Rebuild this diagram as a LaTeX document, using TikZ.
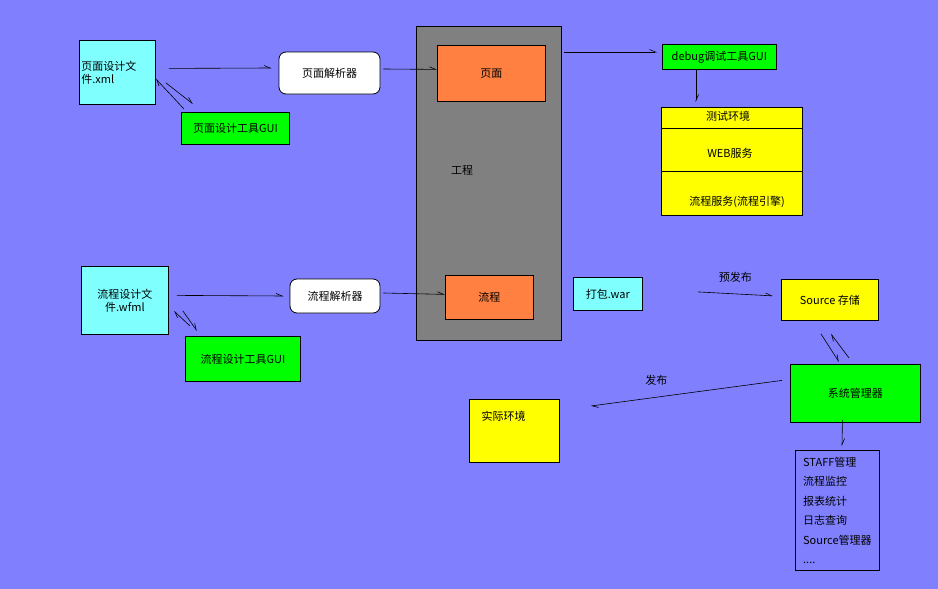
\documentclass[tikz,border=0pt]{standalone}
\usepackage{fontspec}
\setmainfont{Noto Sans CJK SC}
\usetikzlibrary{positioning}
\usetikzlibrary{arrows.meta}
\definecolor{bg}{HTML}{8080FF}
\definecolor{filecyan}{HTML}{80FFFF}
\definecolor{toolgreen}{HTML}{00FF00}
\definecolor{partorange}{HTML}{FF8040}
\definecolor{envyellow}{HTML}{FFFF00}
\definecolor{projgray}{HTML}{808080}
\tikzset{
  box/.style={draw=black, line width=0.8pt, inner sep=2pt, font=\fontsize{11}{13}\selectfont},
  filebox/.style={box, fill=filecyan, align=left, anchor=north west, text width=#1},
  toolbox/.style={box, fill=toolgreen, anchor=north west},
  parserbox/.style={box, fill=white, rounded corners=7pt},
  link/.style={line width=0.6pt, -{Straight Barb[harpoon,length=6pt,width=5pt]}},
  lbl/.style={font=\fontsize{11}{13}\selectfont}
}
\begin{document}
\begin{tikzpicture}[x=1pt,y=-1pt]
\fill[bg] (0,0) rectangle (938,589);
\useasboundingbox (0,0) rectangle (938,589);

% project
\node[box, fill=projgray, minimum width=145, minimum height=314, anchor=north west] (proj) at (416,26) {};
\node[lbl] (projlbl) at (462,170) {工程};
\node[box, fill=partorange, minimum width=108, minimum height=56, anchor=north west] (page) at (437,45) {页面};
\node[box, fill=partorange, minimum width=88, minimum height=44, anchor=north west] (flow) at (445,275) {流程};

% page side
\node[filebox=72, minimum height=64] (pfile) at (79,40) {页面设计文\\件.xml};
\node[toolbox, minimum width=108, minimum height=32] (ptool) at (181,112) {页面设计工具GUI};
\node[parserbox, minimum width=101, minimum height=42] (pparser) at (329.5,73) {页面解析器};

% flow side
\node[filebox=83, minimum height=68, align=center] (ffile) at (81,266) {流程设计文\\件.wfml};
\node[toolbox, minimum width=115, minimum height=45] (ftool) at (185,336) {流程设计工具GUI};
\node[parserbox, minimum width=90, minimum height=34] (fparser) at (335,296) {流程解析器};

% test
\node[toolbox, minimum width=114, minimum height=25, inner sep=1pt] (debug) at (662,44) {debug调试工具GUI};
\node[box, fill=envyellow, minimum width=141, minimum height=108, anchor=north west] (test) at (661,107) {};
\draw[line width=0.8pt] (661,128) -- (802,128) (661,171) -- (802,171);
\node[lbl] (testlbl) at (728,116) {测试环境};
\node[lbl] (web) at (730,153) {WEB服务};
\node[lbl] (engine) at (737,202) {流程服务(流程引擎)};

% release
\node[box, fill=filecyan, minimum width=69, minimum height=33, anchor=north west] (war) at (573,277) {打包.war};
\node[box, fill=envyellow, minimum width=97, minimum height=41, anchor=north west] (src) at (781,279) {Source 存储};
\node[box, fill=toolgreen, minimum width=130, minimum height=58, anchor=north west] (mgr) at (790,364) {系统管理器};
\node[box, fill=envyellow, minimum width=90, minimum height=63, anchor=north west, align=left] (real) at (469,399) {};
\node[lbl, anchor=north west] (reallbl) at (478,408) {实际环境};
\node[box, minimum width=84, minimum height=120, anchor=north west, align=left,
      font=\fontsize{11}{19.5}\selectfont, inner sep=5pt] (funcs) at (795,450)
      {STAFF管理\\流程监控\\报表统计\\日志查询\\Source管理器\\....};

% connectors (y grows downward)
\draw[link] ([xshift=13pt,yshift=4pt]pfile.east) -- ([xshift=-7pt,yshift=5pt]pparser.west);
\draw[link] ([xshift=3pt,yshift=4pt]pparser.east) -- ([yshift=4pt]page.west);
\draw[link] ([xshift=18pt,yshift=-7pt]page.north east) -- ([xshift=-5pt,yshift=-8pt]debug.north west);
\draw[link] ([xshift=34pt]debug.south west) -- ([xshift=35pt,yshift=5pt]test.north west);
\draw[link] ([xshift=10pt,yshift=22pt]pfile.south east) -- ([xshift=12pt,yshift=8pt]ptool.north west);
\draw[link] ([xshift=3pt,yshift=3pt]ptool.north west) -- ([xshift=0pt,yshift=26pt]pfile.south east);
\draw[link] ([xshift=8pt,yshift=5pt]ffile.east) -- ([xshift=-6pt]fparser.west);
\draw[link] ([xshift=3pt,yshift=3pt]fparser.east) -- ([yshift=3pt]flow.west);
\draw[link] ([xshift=14pt,yshift=24pt]ffile.south east) -- ([xshift=12pt,yshift=5pt]ftool.north west);
\draw[link] ([xshift=5pt,yshift=10pt]ftool.north west) -- ([xshift=5pt,yshift=24pt]ffile.south east);
\draw[link] ([xshift=55pt,yshift=2pt]war.east) -- ([xshift=-8pt,yshift=4pt]src.west)
  node[lbl, midway, above=8pt] {预发布};
\draw[link] ([xshift=-9pt,yshift=-13pt]src.south) -- ([xshift=49pt,yshift=2pt]mgr.north west);
\draw[link] ([xshift=59pt,yshift=6pt]mgr.north west) -- ([xshift=1pt,yshift=-13pt]src.south);
\draw[link] ([xshift=-8pt,yshift=13pt]mgr.west) -- ([xshift=31pt,yshift=-7pt]real.north east)
  node[lbl, midway, above=4pt, xshift=-30pt] {发布};
\draw[link] ([xshift=-13pt,yshift=3pt]mgr.south) -- ([xshift=47pt,yshift=4pt]funcs.north west);
\end{tikzpicture}
\end{document}
